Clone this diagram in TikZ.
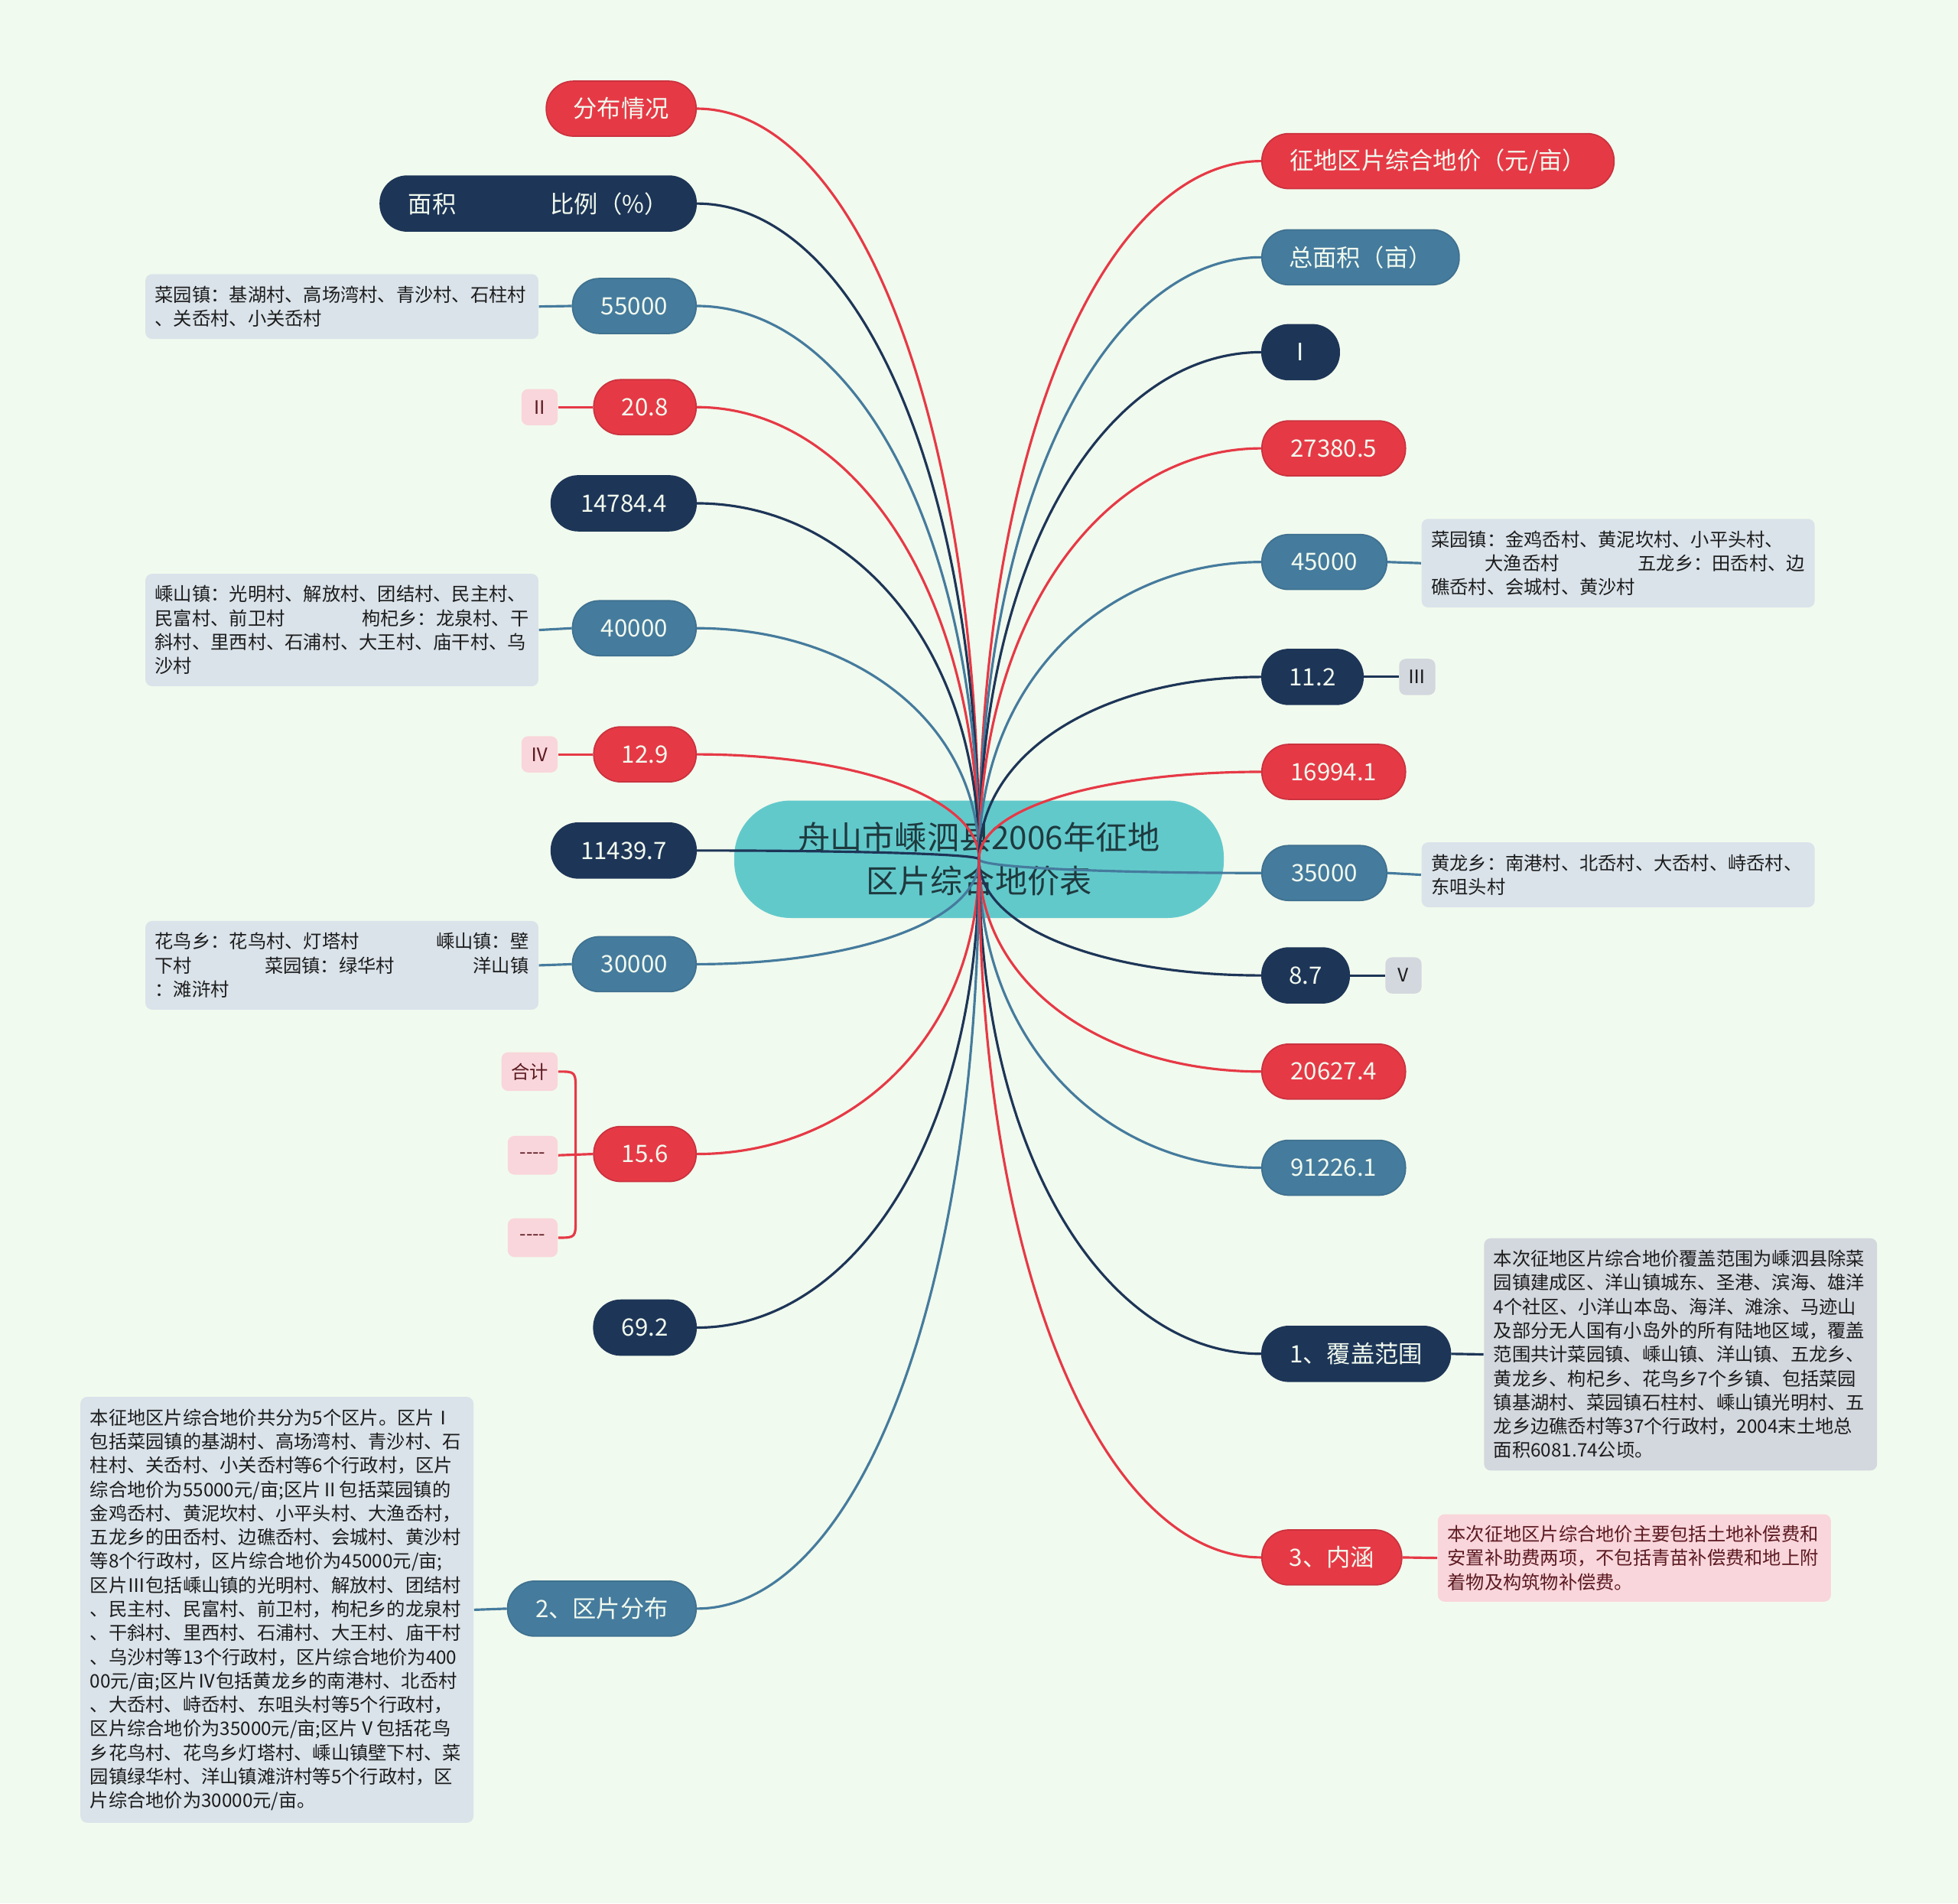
\documentclass[tikz,border=0pt]{standalone}
\usepackage{fontspec}
\setmainfont{Noto Sans CJK SC}
\usetikzlibrary{calc}
\definecolor{bgc}{HTML}{F1FAEE}
\definecolor{cred}{HTML}{E63946}
\definecolor{cnavy}{HTML}{1D3557}
\definecolor{cblue}{HTML}{457B9D}
\definecolor{cteal}{HTML}{62C9CB}
\definecolor{dblue}{HTML}{DAE3EA}
\definecolor{dgray}{HTML}{D3D7DE}
\definecolor{dpink}{HTML}{F9D6DB}
\definecolor{ttext}{HTML}{1E3A3F}
\definecolor{ptext}{HTML}{5C1A22}
\definecolor{dtext}{HTML}{1C1C1C}
\def\u{0.4645pt}
\pgfdeclarelayer{bglayer}
\pgfdeclarelayer{midlayer}
\pgfsetlayers{bglayer,midlayer,main}
\begin{document}
\begin{tikzpicture}[x=0.4645pt,y=-0.4645pt,
  mnode/.style={rounded corners=10pt, minimum height=44*\u, inner xsep=0pt, inner ysep=0pt, text=bgc, font=\fontsize{8.9pt}{10pt}\selectfont, line width=0.5pt},
  rnode/.style={mnode, fill=cred, draw=cred!88!black},
  nnode/.style={mnode, fill=cnavy, draw=cnavy},
  bnode/.style={mnode, fill=cblue, draw=cblue!92!black},
  desc/.style={rounded corners=2.5pt, inner xsep=3.6pt, inner ysep=0pt, text width=139pt, align=left, font=\fontsize{6.9pt}{8.9pt}\selectfont, anchor=north west, text=dtext},
  tagbox/.style={rounded corners=2.5pt, inner sep=0pt, font=\fontsize{6.9pt}{8pt}\selectfont},
  tagp/.style={tagbox, fill=dpink, text=ptext},
  tagg/.style={tagbox, fill=dgray, text=dtext},
  link/.style={line width=0.9pt}
]
\begin{pgfonlayer}{bglayer}
\fill[bgc] (0,0) rectangle (1568,1524);
\useasboundingbox (0,0) rectangle (1568,1524);
\node[fill=cteal, rounded corners=21pt, minimum width=392*\u, minimum height=94*\u, inner sep=0pt, align=center, font=\fontsize{12pt}{16.3pt}\selectfont, text=ttext] (c0) at (784,688) {舟山市嵊泗县2006年征地\\区片综合地价表};
\end{pgfonlayer}

% left nodes
\node[rnode, minimum width=120*\u, anchor=east] (fb) at (558,87) {分布情况};
\node[nnode, minimum width=253*\u, anchor=east] (mj) at (558,163) {面积\hspace{35pt}比例（\%）};
\node[bnode, minimum width=99*\u, anchor=east] (n55) at (558,245) {55000};
\node[rnode, minimum width=82*\u, anchor=east] (n208) at (558,326) {20.8};
\node[nnode, minimum width=116*\u, anchor=east] (n147) at (558,403) {14784.4};
\node[bnode, minimum width=99*\u, anchor=east] (n40) at (558,503) {40000};
\node[rnode, minimum width=82*\u, anchor=east] (n129) at (558,604) {12.9};
\node[nnode, minimum width=116*\u, anchor=east] (n114) at (558,681) {11439.7};
\node[bnode, minimum width=99*\u, anchor=east] (n30) at (558,772) {30000};
\node[rnode, minimum width=82*\u, anchor=east] (n156) at (558,924) {15.6};
\node[nnode, minimum width=82*\u, anchor=east] (n692) at (558,1063) {69.2};
\node[bnode, minimum width=151*\u, anchor=east] (qp) at (558,1288) {2、区片分布};

% right nodes
\node[rnode, minimum width=282*\u, anchor=west] (zd) at (1010,129) {征地区片综合地价（元/亩）};
\node[bnode, minimum width=158*\u, anchor=west] (zmj) at (1010,206) {总面积（亩）};
\node[nnode, minimum width=62*\u, anchor=west] (r1) at (1010,282) {Ⅰ};
\node[rnode, minimum width=115*\u, anchor=west] (n273) at (1010,359) {27380.5};
\node[bnode, minimum width=100*\u, anchor=west] (n45) at (1010,450) {45000};
\node[nnode, minimum width=81*\u, anchor=west] (n112) at (1010,542) {11.2};
\node[rnode, minimum width=115*\u, anchor=west] (n169) at (1010,618) {16994.1};
\node[bnode, minimum width=100*\u, anchor=west] (n35) at (1010,699) {35000};
\node[nnode, minimum width=70*\u, anchor=west] (n87) at (1010,781) {8.7};
\node[rnode, minimum width=115*\u, anchor=west] (n206) at (1010,858) {20627.4};
\node[bnode, minimum width=115*\u, anchor=west] (n912) at (1010,935) {91226.1};
\node[nnode, minimum width=151*\u, anchor=west] (fg) at (1010,1084) {1、覆盖范围};
\node[rnode, minimum width=112*\u, anchor=west] (nh) at (1010,1247) {3、内涵};

% tags
\node[tagp, minimum width=29*\u, minimum height=29*\u, anchor=east] (t2) at (447,326) {Ⅱ};
\node[tagp, minimum width=29*\u, minimum height=29*\u, anchor=east] (t4) at (447,604) {Ⅳ};
\node[tagg, minimum width=29*\u, minimum height=29*\u, anchor=west] (t3) at (1120,542) {Ⅲ};
\node[tagg, minimum width=29*\u, minimum height=29*\u, anchor=west] (t5) at (1109,781) {Ⅴ};
\node[tagp, minimum width=45*\u, minimum height=31*\u, anchor=east] (hj) at (447,858) {合计};
\node[tagp, minimum width=40*\u, minimum height=31*\u, anchor=east] (ds1) at (447,925) {-{}-{}-{}-};
\node[tagp, minimum width=40*\u, minimum height=31*\u, anchor=east] (ds2) at (447,991) {-{}-{}-{}-};

% descriptions
\node[desc, fill=dblue, minimum height=52*\u] (d55) at (116,219) {菜园镇：基湖村、高场湾村、青沙村、石柱村\\、关岙村、小关岙村};
\node[desc, fill=dblue, minimum height=90*\u] (d40) at (116,459) {嵊山镇：光明村、解放村、团结村、民主村、\\民富村、前卫村\hfill 枸杞乡：龙泉村、干\\斜村、里西村、石浦村、大王村、庙干村、乌\\沙村};
\node[desc, fill=dblue, minimum height=71*\u] (d30) at (116,737) {花鸟乡：花鸟村、灯塔村\hfill 嵊山镇：壁\\下村\hspace{27pt}菜园镇：绿华村\hfill 洋山镇\\：滩浒村};
\node[desc, fill=dblue, minimum height=71*\u] (d45) at (1138,415) {菜园镇：金鸡岙村、黄泥坎村、小平头村、\\\hspace*{20pt}大渔岙村\hfill 五龙乡：田岙村、边\\礁岙村、会城村、黄沙村};
\node[desc, fill=dblue, minimum height=52*\u] (d35) at (1138,674) {黄龙乡：南港村、北岙村、大岙村、峙岙村、\\东咀头村};
\node[desc, fill=dgray, minimum height=186*\u] (dfg) at (1188,991) {本次征地区片综合地价覆盖范围为嵊泗县除菜\\园镇建成区、洋山镇城东、圣港、滨海、雄洋\\4个社区、小洋山本岛、海洋、滩涂、马迹山\\及部分无人国有小岛外的所有陆地区域，覆盖\\范围共计菜园镇、嵊山镇、洋山镇、五龙乡、\\黄龙乡、枸杞乡、花鸟乡7个乡镇、包括菜园\\镇基湖村、菜园镇石柱村、嵊山镇光明村、五\\龙乡边礁岙村等37个行政村，2004末土地总\\面积6081.74公顷。};
\node[desc, fill=dpink, text=ptext, minimum height=70*\u] (dnh) at (1151,1212) {本次征地区片综合地价主要包括土地补偿费和\\安置补助费两项，不包括青苗补偿费和地上附\\着物及构筑物补偿费。};
\node[desc, fill=dblue, minimum height=341*\u] (dqp) at (64,1118) {本征地区片综合地价共分为5个区片。区片Ⅰ\\包括菜园镇的基湖村、高场湾村、青沙村、石\\柱村、关岙村、小关岙村等6个行政村，区片\\综合地价为55000元/亩;区片Ⅱ包括菜园镇的\\金鸡岙村、黄泥坎村、小平头村、大渔岙村，\\五龙乡的田岙村、边礁岙村、会城村、黄沙村\\等8个行政村，区片综合地价为45000元/亩;\\区片Ⅲ包括嵊山镇的光明村、解放村、团结村\\、民主村、民富村、前卫村，枸杞乡的龙泉村\\、干斜村、里西村、石浦村、大王村、庙干村\\、乌沙村等13个行政村，区片综合地价为400\\00元/亩;区片Ⅳ包括黄龙乡的南港村、北岙村\\、大岙村、峙岙村、东咀头村等5个行政村，\\区片综合地价为35000元/亩;区片Ⅴ包括花鸟\\乡花鸟村、花鸟乡灯塔村、嵊山镇壁下村、菜\\园镇绿华村、洋山镇滩浒村等5个行政村，区\\片综合地价为30000元/亩。};

\coordinate (bt) at (461,874);
\coordinate (bb) at (461,975);

\begin{pgfonlayer}{midlayer}
\foreach \n/\col in {fb/cred, mj/cnavy, n55/cblue, n208/cred, n147/cnavy, n40/cblue, n129/cred, n114/cnavy, n30/cblue, n156/cred, n692/cnavy, qp/cblue}
  \draw[link,\col] (c0.center) .. controls ($(c0.center)!0.6!(c0.center|-\n.east)$) and ($(\n.east)!0.55!(\n.east-|c0.center)$) .. (\n.east);
\foreach \n/\col in {zd/cred, zmj/cblue, r1/cnavy, n273/cred, n45/cblue, n112/cnavy, n169/cred, n35/cblue, n87/cnavy, n206/cred, n912/cblue, fg/cnavy, nh/cred}
  \draw[link,\col] (c0.center) .. controls ($(c0.center)!0.6!(c0.center|-\n.west)$) and ($(\n.west)!0.55!(\n.west-|c0.center)$) .. (\n.west);
\draw[link,cred] (n208.west) -- (t2.east);
\draw[link,cred] (n129.west) -- (t4.east);
\draw[link,cnavy] (n112.east) -- (t3.west);
\draw[link,cnavy] (n87.east) -- (t5.west);
\draw[link,cblue] (n55.west) -- (d55.east);
\draw[link,cblue] (n40.west) -- (d40.east);
\draw[link,cblue] (n30.west) -- (d30.east);
\draw[link,cblue] (n45.east) -- (d45.west);
\draw[link,cblue] (n35.east) -- (d35.west);
\draw[link,cnavy] (fg.east) -- (dfg.west);
\draw[link,cred] (nh.east) -- (dnh.west);
\draw[link,cblue] (qp.west) -- (dqp.east);
\draw[link,cred] (n156.west) -- (ds1.east);
\draw[link,cred] (hj.east) .. controls (hj.east-|bt) .. (bt) -- (bb) .. controls (ds2.east-|bb) .. (ds2.east);
\end{pgfonlayer}
\end{tikzpicture}
\end{document}
